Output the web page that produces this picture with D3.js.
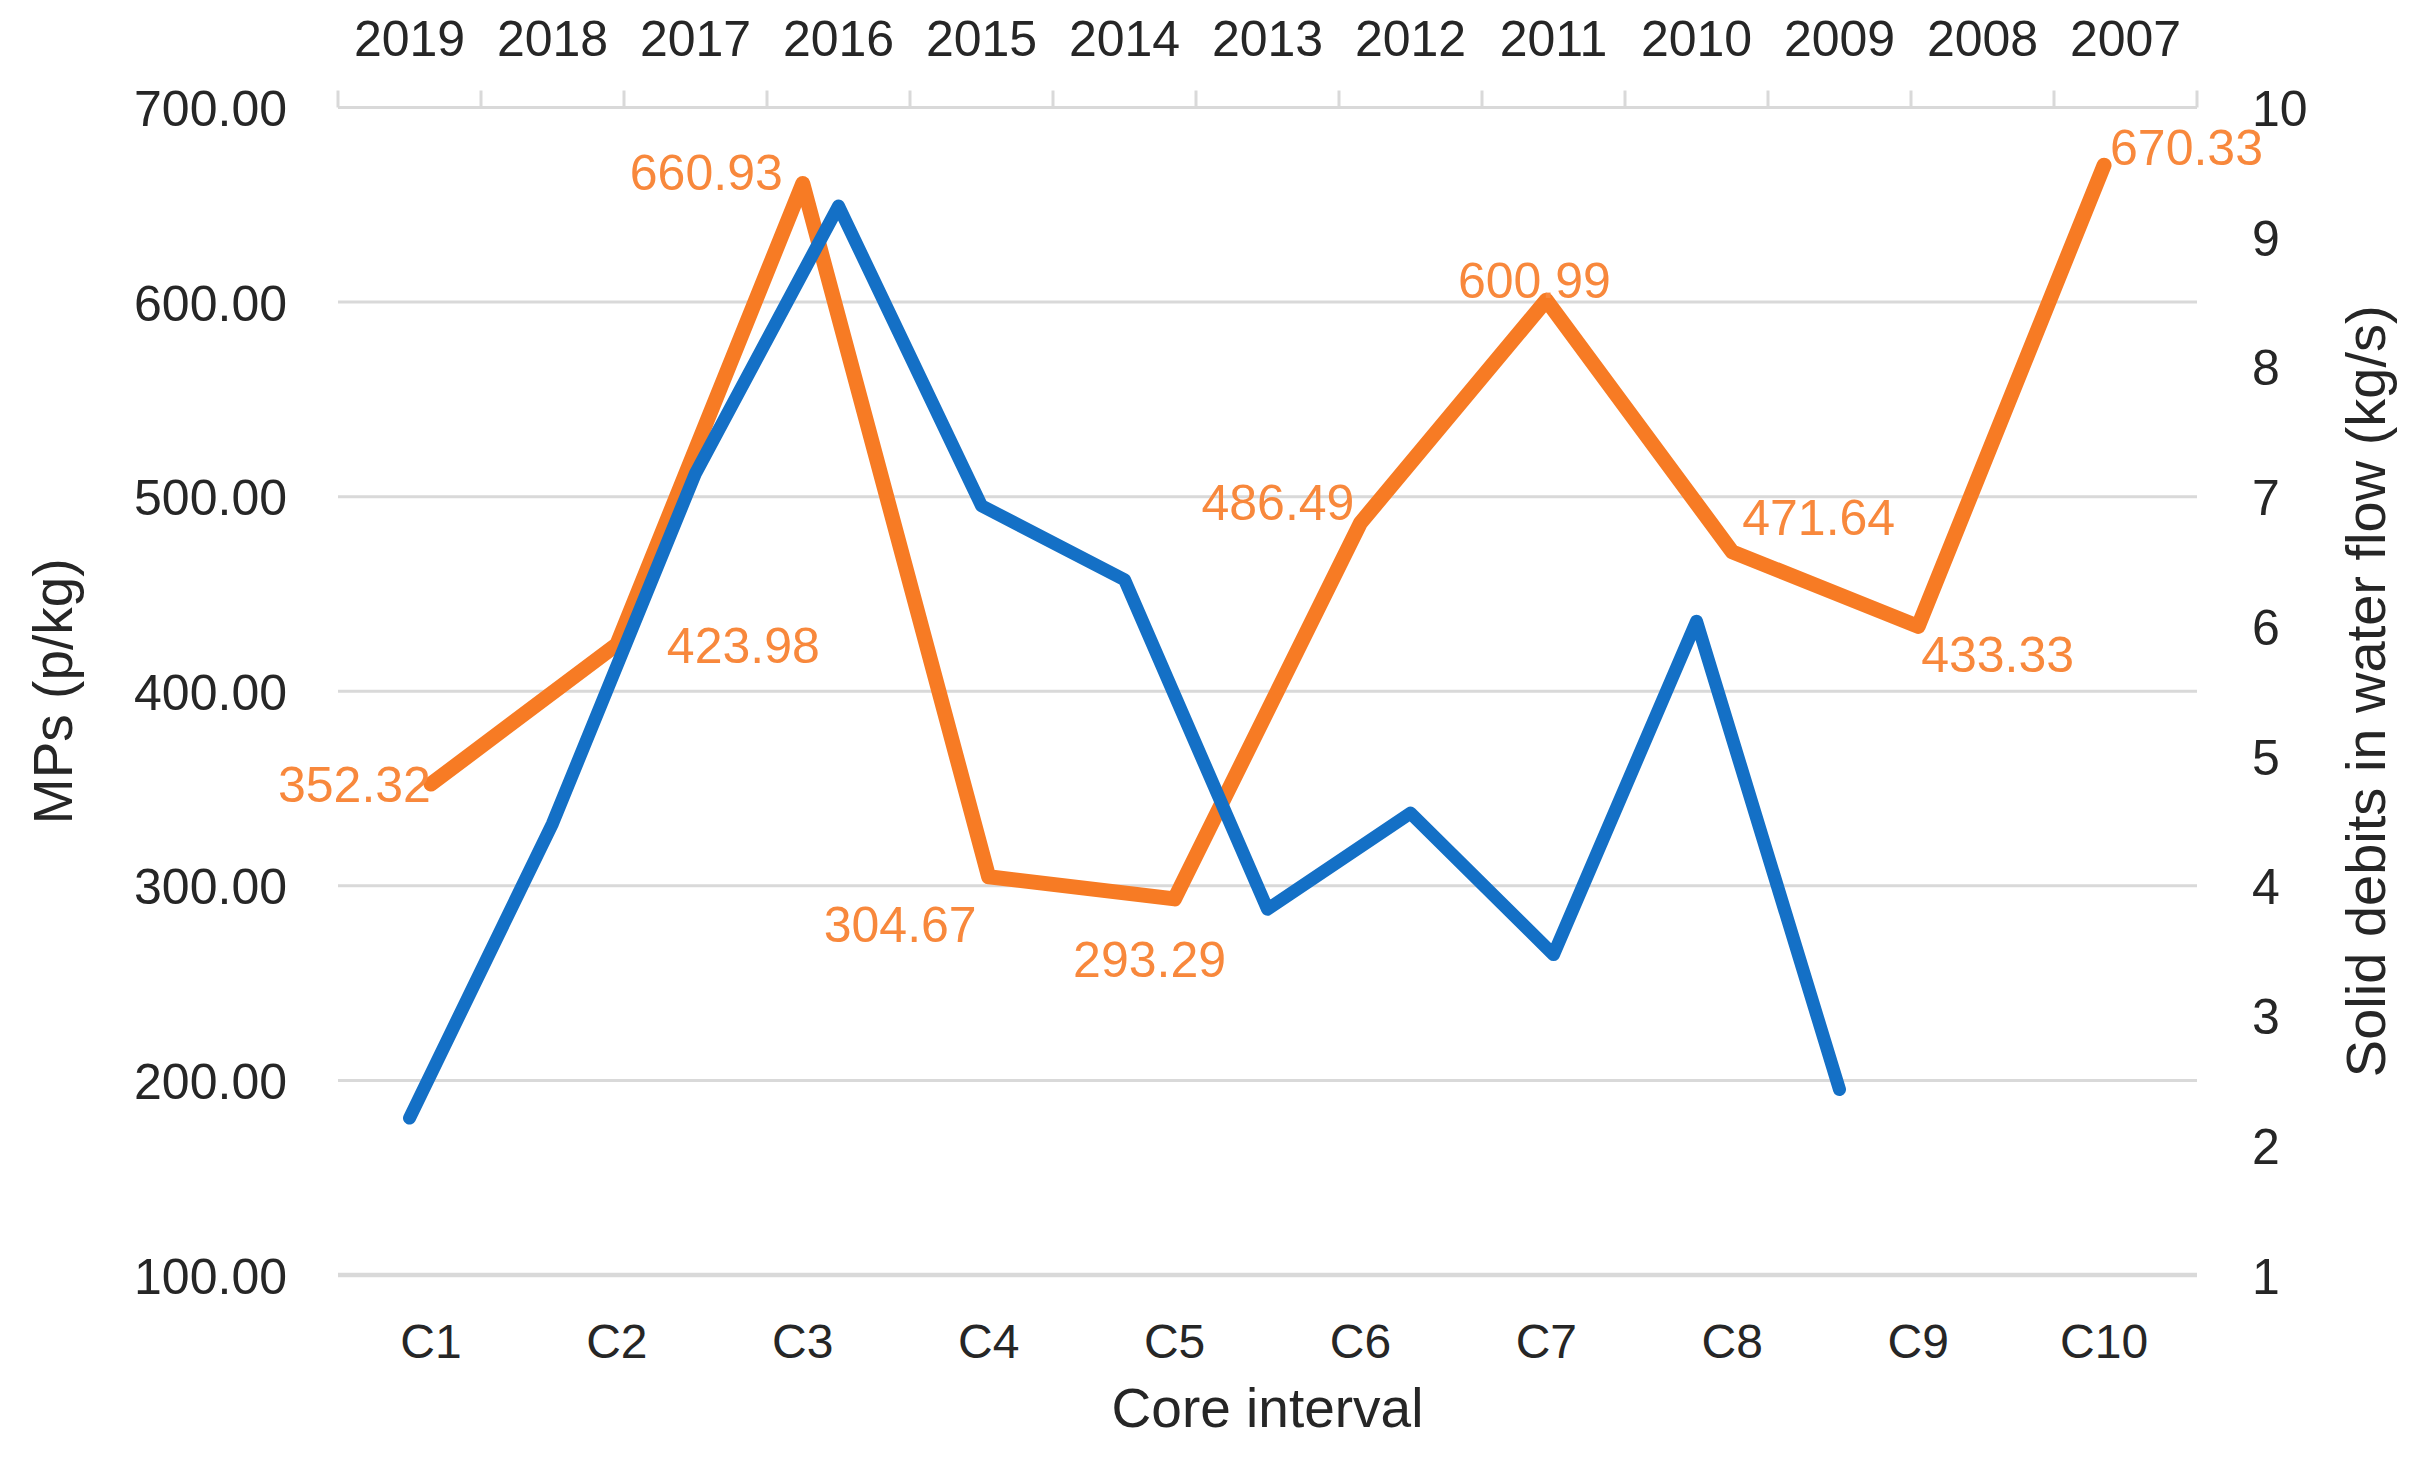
<!DOCTYPE html>
<meta charset="utf-8">
<style>
body { margin: 0; background: #fff; }
text { font-family: "Liberation Sans", Arial, sans-serif; }
.axis path { display: none; }
.axis line { display: none; }
.axis text { fill: #262626; }
</style>
<body>
<script src="https://cdn.jsdelivr.net/npm/d3@7"></script>
<script>
// data
var cores = ["C1", "C2", "C3", "C4", "C5", "C6", "C7", "C8", "C9", "C10"];
var mps = [352.32, 423.98, 660.93, 304.67, 293.29, 486.49, 600.99, 471.64, 433.33, 670.33];
var years = ["2019", "2018", "2017", "2016", "2015", "2014", "2013", "2012", "2011", "2010", "2009", "2008", "2007"];
var debits = [2.21, 4.48, 7.18, 9.24, 6.93, 6.36, 3.82, 4.56, 3.47, 6.04, 2.43]; // 2019 -> 2009
var leftTicks = [100, 200, 300, 400, 500, 600, 700];
var rightTicks = [1, 2, 3, 4, 5, 6, 7, 8, 9, 10];

// where each orange label sits relative to its point [dx, dy, anchor]
var labelPlace = [
  [0, 0, "end"], [50, 0, "start"], [-20, -12, "end"], [-12, 47, "end"], [-25, 60, "middle"],
  [-6, -21, "end"], [-12, -20, "middle"], [10, -35, "start"], [3, 28, "start"], [6, -18, "start"]
];

var width = 2431, height = 1468;
var plotLeft = 338, plotRight = 2197, plotTop = 107.5, plotBottom = 1275;
var orange = "#F77B24", orangeText = "#F8883C", blue = "#1470C6", grid = "#D9D9D9";

var svg = d3.select("body").append("svg")
  .attr("width", width)
  .attr("height", height);

svg.append("rect").attr("width", width).attr("height", height).attr("fill", "#fff");

var xCore = d3.scaleBand().domain(cores).range([plotLeft, plotRight]);
var xYear = d3.scaleBand().domain(years).range([plotLeft, plotRight]);
var yLeft = d3.scaleLinear().domain([100, 700]).range([plotBottom, plotTop]);
var yRight = d3.scaleLinear().domain([1, 10]).range([plotBottom, plotTop]);

// gridlines
svg.append("g").selectAll("line")
  .data(leftTicks)
  .enter().append("line")
  .attr("x1", plotLeft).attr("x2", plotRight)
  .attr("y1", function(d) { return yLeft(d); })
  .attr("y2", function(d) { return yLeft(d); })
  .attr("stroke", grid)
  .attr("stroke-width", function(d) { return d == 100 ? 4.5 : 3; });

// top year axis ticks (between bands, pointing up)
var edges = years.map(function(d) { return xYear(d); }).concat([plotRight]);
svg.append("g").selectAll("line")
  .data(edges)
  .enter().append("line")
  .attr("x1", function(d) { return d; }).attr("x2", function(d) { return d; })
  .attr("y1", plotTop).attr("y2", plotTop - 17)
  .attr("stroke", grid)
  .attr("stroke-width", 3);

// axes
svg.append("g").attr("class", "axis")
  .attr("transform", "translate(" + plotLeft + ",0)")
  .call(d3.axisLeft(yLeft).tickValues(leftTicks).tickFormat(d3.format(".2f")).tickSize(0).tickPadding(51))
  .selectAll("text").attr("font-size", 50).attr("dy", "0.36em");

svg.append("g").attr("class", "axis")
  .attr("transform", "translate(" + plotRight + ",0)")
  .call(d3.axisRight(yRight).tickValues(rightTicks).tickFormat(d3.format("d")).tickSize(0).tickPadding(55))
  .selectAll("text").attr("font-size", 50).attr("dy", "0.36em");

svg.append("g").attr("class", "axis")
  .attr("transform", "translate(0," + plotTop + ")")
  .call(d3.axisTop(xYear).tickSize(0).tickPadding(52))
  .selectAll("text").attr("font-size", 50);

svg.append("g").attr("class", "axis")
  .attr("transform", "translate(0," + plotBottom + ")")
  .call(d3.axisBottom(xCore).tickSize(0).tickPadding(49))
  .selectAll("text").attr("font-size", 48);

// axis titles
svg.append("text")
  .text("Core interval")
  .attr("x", (plotLeft + plotRight) / 2).attr("y", 1427)
  .attr("text-anchor", "middle")
  .attr("font-size", 55)
  .attr("fill", "#262626");

svg.append("text")
  .text("MPs (p/kg)")
  .attr("transform", "translate(72," + (plotTop + plotBottom) / 2 + ") rotate(-90)")
  .attr("text-anchor", "middle")
  .attr("font-size", 55)
  .attr("fill", "#262626");

svg.append("text")
  .text("Solid debits in water flow (kg/s)")
  .attr("transform", "translate(2385," + (plotTop + plotBottom) / 2 + ") rotate(-90)")
  .attr("text-anchor", "middle")
  .attr("font-size", 56)
  .attr("fill", "#262626");

// orange line: MPs on core intervals
var lineMps = d3.line()
  .x(function(d, i) { return xCore(cores[i]) + xCore.bandwidth() / 2; })
  .y(function(d) { return yLeft(d); });

svg.append("path")
  .datum(mps)
  .attr("d", lineMps)
  .attr("fill", "none")
  .attr("stroke", orange)
  .attr("stroke-width", 15)
  .attr("stroke-linejoin", "round")
  .attr("stroke-linecap", "round");

// blue line: solid debits on years
var lineDebits = d3.line()
  .x(function(d, i) { return xYear(years[i]) + xYear.bandwidth() / 2; })
  .y(function(d) { return yRight(d); });

svg.append("path")
  .datum(debits)
  .attr("d", lineDebits)
  .attr("fill", "none")
  .attr("stroke", blue)
  .attr("stroke-width", 13)
  .attr("stroke-linejoin", "round")
  .attr("stroke-linecap", "round");

// data labels
svg.append("g").selectAll("text")
  .data(mps)
  .enter().append("text")
  .text(function(d) { return d.toFixed(2); })
  .attr("x", function(d, i) { return xCore(cores[i]) + xCore.bandwidth() / 2 + labelPlace[i][0]; })
  .attr("y", function(d, i) { return yLeft(d) + labelPlace[i][1]; })
  .attr("dy", "0.36em")
  .attr("text-anchor", function(d, i) { return labelPlace[i][2]; })
  .attr("font-size", 50)
  .attr("fill", orangeText);
</script>
</body>
